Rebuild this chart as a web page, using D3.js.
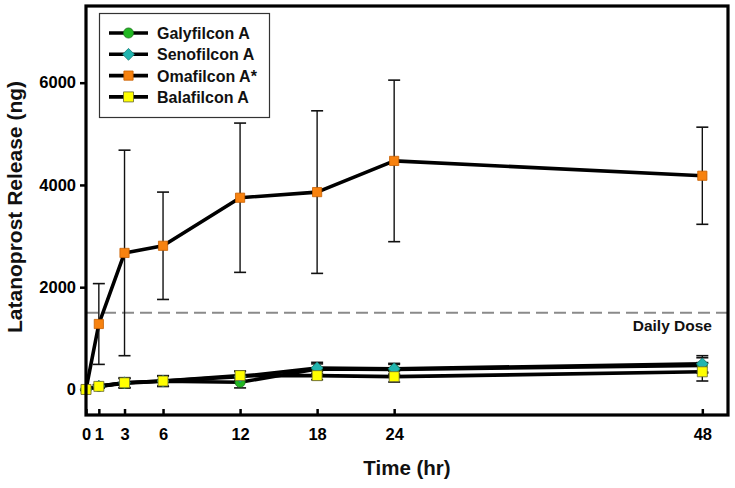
<!DOCTYPE html>
<html><head><meta charset="utf-8">
<script src="https://cdn.jsdelivr.net/npm/d3@7"></script>
<style>
html,body{margin:0;padding:0;background:#fff;}
svg{display:block;font-family:"Liberation Sans",Arial,sans-serif;font-weight:bold;}
</style></head>
<body><svg id="c" width="735" height="488"></svg>
<script>
const times = [0, 1, 3, 6, 12, 18, 24, 48];
const xTicks = [0, 1, 3, 6, 12, 18, 24, 48];
const yTicks = [0, 2000, 4000, 6000];
const seriesNames = ["Galyfilcon A", "Senofilcon A", "Omafilcon A*", "Balafilcon A"];
const galyfilcon = [0, 60, 120, 160, 140, 400, 390, 470];
const galyfilconErr = [0, 30, 90, 100, 110, 100, 100, 150];
const senofilcon = [0, 65, 130, 165, 250, 420, 405, 500];
const senofilconErr = [0, 30, 90, 100, 100, 110, 105, 160];
const omafilcon = [0, 1280, 2670, 2810, 3750, 3860, 4470, 4180];
const omafilconErr = [0, 790, 2010, 1050, 1460, 1590, 1580, 950];
const balafilcon = [0, 60, 130, 165, 270, 270, 250, 345];
const balafilconErr = [0, 30, 100, 105, 90, 80, 105, 180];
const dailyDose = 1500;

const colors = ["#22b822", "#22b5b0", "#f7820f", "#ffff00"];
const strokes = ["#1a6e1a", "#1a7f7a", "#c85f00", "#666633"];
const shapes = [d3.symbolCircle, d3.symbolSquare, d3.symbolSquare, d3.symbolSquare];
const rots = [0, 45, 0, 0];
const sizes = [80, 70, 85, 100];
const values = [galyfilcon, senofilcon, omafilcon, balafilcon];
const errs = [galyfilconErr, senofilconErr, omafilconErr, balafilconErr];

const svg = d3.select("#c");
const L = 86, R = 728, T = 6, B = 415;
const x = d3.scaleLinear().domain([0, 50]).range([L, R]);
const y = d3.scaleLinear().domain([-500, 7500]).range([B, T]);

// daily dose line
svg.append("line").attr("x1", L).attr("x2", R).attr("y1", y(dailyDose)).attr("y2", y(dailyDose))
  .attr("stroke", "#8a8a8a").attr("stroke-width", 2.2).attr("stroke-dasharray", "12,6");
svg.append("text").attr("x", 712).attr("y", y(dailyDose) + 18).attr("text-anchor", "end")
  .attr("font-size", 15.5).attr("fill", "#111").text("Daily Dose");

// axes
const xAxis = d3.axisBottom(x).tickValues(xTicks).tickSize(-6).tickPadding(13).tickFormat(d3.format("d"));
const gx = svg.append("g").attr("transform", `translate(0,${B})`).call(xAxis);
const yAxis = d3.axisLeft(y).tickValues(yTicks).tickSize(6).tickPadding(4).tickFormat(d3.format("d"));
const gy = svg.append("g").attr("transform", `translate(${L},0)`).call(yAxis);
[gx, gy].forEach(g => {
  g.select(".domain").remove();
  g.selectAll(".tick line").attr("stroke", "#000").attr("stroke-width", 2.5);
  g.selectAll(".tick text").attr("font-size", 16.5).attr("font-weight", "bold").attr("fill", "#000")
    .attr("font-family", "'Liberation Sans',Arial,sans-serif");
});

// lines
const line = d3.line().x((d, i) => x(times[i])).y(d => y(d));
values.forEach(v => {
  svg.append("path").datum(v).attr("d", line).attr("fill", "none")
    .attr("stroke", "#000").attr("stroke-width", 3.6).attr("stroke-linejoin", "round");
});

// error bars
values.forEach((v, s) => {
  const g = svg.append("g");
  const cw = 6;
  v.forEach((val, i) => {
    const e = errs[s][i];
    if (e <= 0) return;
    const cx = x(times[i]);
    g.append("line").attr("x1", cx).attr("x2", cx).attr("y1", y(val - e)).attr("y2", y(val + e))
      .attr("stroke", "#111").attr("stroke-width", 1.4);
    [val - e, val + e].forEach(t => g.append("line").attr("x1", cx - cw).attr("x2", cx + cw)
      .attr("y1", y(t)).attr("y2", y(t)).attr("stroke", "#111").attr("stroke-width", 1.6));
  });
});
// markers
values.forEach((v, s) => {
  svg.append("g").selectAll("path").data(v).join("path")
    .attr("transform", (d, i) => `translate(${x(times[i])},${y(d)}) rotate(${rots[s]})`)
    .attr("d", d3.symbol().type(shapes[s]).size(sizes[s]))
    .attr("fill", colors[s]).attr("stroke", strokes[s]).attr("stroke-width", 0.8);
});

// frame
svg.append("rect").attr("x", L).attr("y", T).attr("width", R - L).attr("height", B - T)
  .attr("fill", "none").attr("stroke", "#000").attr("stroke-width", 3.2);

// legend
const lg = svg.append("g");
lg.append("rect").attr("x", 99.5).attr("y", 13.5).attr("width", 170).attr("height", 104)
  .attr("fill", "#fff").attr("stroke", "#333").attr("stroke-width", 1.2);
seriesNames.forEach((n, s) => {
  const ly = 33 + s * 21.3;
  lg.append("line").attr("x1", 109).attr("x2", 148).attr("y1", ly).attr("y2", ly)
    .attr("stroke", "#000").attr("stroke-width", 3.6);
  lg.append("path").attr("transform", `translate(128.5,${ly}) rotate(${rots[s]})`)
    .attr("d", d3.symbol().type(shapes[s]).size(sizes[s]))
    .attr("fill", colors[s]).attr("stroke", strokes[s]).attr("stroke-width", 0.8);
  lg.append("text").attr("x", 157).attr("y", ly + 6).attr("font-size", 16).attr("fill", "#111").text(n);
});

// axis titles
svg.append("text").attr("x", 407).attr("y", 475).attr("text-anchor", "middle")
  .attr("font-size", 20.5).attr("fill", "#111").text("Time (hr)");
svg.append("text").attr("transform", "translate(22,207) rotate(-90)").attr("text-anchor", "middle")
  .attr("font-size", 21).attr("fill", "#111").text("Latanoprost Release (ng)");
</script></body></html>
